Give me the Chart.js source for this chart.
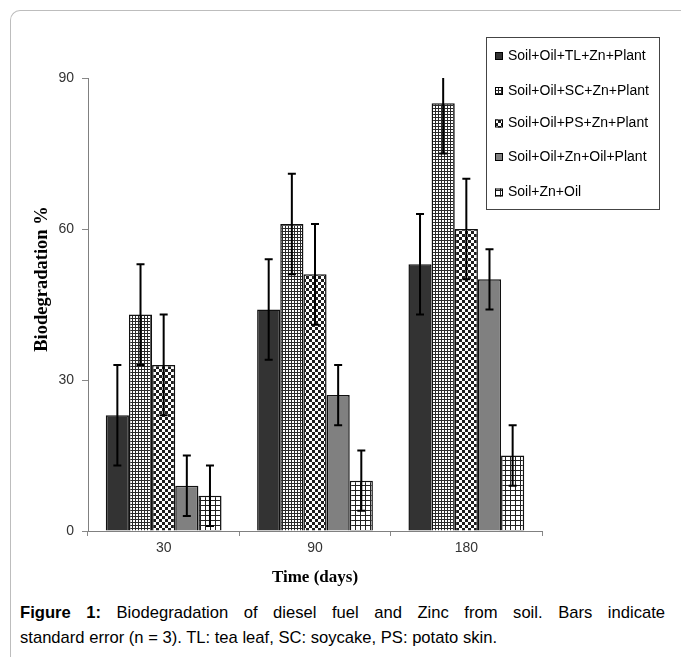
<!DOCTYPE html>
<html>
<head>
<meta charset="utf-8">
<script src="https://cdn.jsdelivr.net/npm/chart.js@4.4.0/dist/chart.umd.min.js"></script>
<style>
  html, body { margin: 0; padding: 0; background: #fff; }
  body { width: 681px; height: 657px; position: relative; overflow: hidden; }
  #frame { position: absolute; left: 10px; top: 10px; width: 700px; height: 700px;
           border-left: 1px solid #bdbdbd; border-top: 1px solid #bdbdbd; border-top-left-radius: 10px; }
  #wrap { position: absolute; left: 0; top: 0; width: 681px; height: 595px; }
  .cap { position: absolute; left: 20px; width: 645px; font-family: "Liberation Sans", Arial, sans-serif;
         font-size: 16.6px; line-height: 20px; color: #000; white-space: nowrap; }
  #cap1 { top: 603px; text-align: justify; text-align-last: justify; white-space: normal; }
  #cap2 { top: 628px; text-align: left; }
</style>
</head>
<body>
<div id="frame"></div>
<div id="wrap"><canvas id="c" width="681" height="595"></canvas></div>
<div class="cap" id="cap1"><b>Figure 1:</b> Biodegradation of diesel fuel and Zinc from soil. Bars indicate</div>
<div class="cap" id="cap2">standard error (n = 3). TL: tea leaf, SC: soycake, PS: potato skin.</div>
<script>
const categories = ['30', '90', '180'];
const seriesNames = ['Soil+Oil+TL+Zn+Plant', 'Soil+Oil+SC+Zn+Plant', 'Soil+Oil+PS+Zn+Plant', 'Soil+Oil+Zn+Oil+Plant', 'Soil+Zn+Oil'];
const tlValues = [23, 44, 53];
const scValues = [43, 61, 85];
const psValues = [33, 51, 60];
const znOilPlantValues = [9, 27, 50];
const soilZnOilValues = [7, 10, 15];
const tlErrors = [10, 10, 10];
const scErrors = [10, 10, 10];
const psErrors = [10, 10, 10];
const znOilPlantErrors = [6, 6, 6];
const soilZnOilErrors = [6, 6, 6];
const yTicks = [0, 30, 60, 90];
const xTitle = 'Time (days)';
const yTitle = 'Biodegradation %';

function makePattern(size, drawFn) {
  const c = document.createElement('canvas');
  c.width = size; c.height = size;
  const g = c.getContext('2d');
  g.fillStyle = '#fff';
  g.fillRect(0, 0, size, size);
  drawFn(g);
  return document.getElementById('c').getContext('2d').createPattern(c, 'repeat');
}
const fineGrid = makePattern(3, g => { g.fillStyle = '#2a2a2a'; g.fillRect(0, 0, 3, 1); g.fillRect(0, 0, 1, 3); });
const checker = makePattern(6, g => { g.fillStyle = '#1e1e1e'; g.fillRect(0, 0, 3, 3); g.fillRect(3, 3, 3, 3); });
const coarseGrid = makePattern(5, g => { g.fillStyle = '#222'; g.fillRect(0, 0, 5, 1); g.fillRect(0, 0, 1, 5); });

const fills = ['#333333', fineGrid, checker, '#808080', coarseGrid];
const valueSets = [tlValues, scValues, psValues, znOilPlantValues, soilZnOilValues];
const errorSets = [tlErrors, scErrors, psErrors, znOilPlantErrors, soilZnOilErrors];

const datasets = seriesNames.map((name, i) => ({
  label: name,
  data: valueSets[i],
  errors: errorSets[i],
  backgroundColor: fills[i],
  borderColor: '#111',
  borderWidth: 1.5,
  barPercentage: 1.0,
  categoryPercentage: 0.765
}));

const errorBarPlugin = {
  id: 'errorBars',
  afterDatasetsDraw(chart) {
    const ctx = chart.ctx, area = chart.chartArea, ys = chart.scales.y;
    ctx.save();
    ctx.beginPath();
    ctx.rect(area.left, area.top, area.right - area.left, area.bottom - area.top);
    ctx.clip();
    ctx.strokeStyle = '#000';
    ctx.lineWidth = 2;
    chart.data.datasets.forEach((ds, i) => {
      const meta = chart.getDatasetMeta(i);
      meta.data.forEach((bar, j) => {
        const v = ds.data[j], e = ds.errors[j];
        const x = bar.x;
        const yt = ys.getPixelForValue(v + e);
        const yb = ys.getPixelForValue(v - e);
        ctx.beginPath();
        ctx.moveTo(x, yt); ctx.lineTo(x, yb);
        ctx.moveTo(x - 4, yt); ctx.lineTo(x + 4, yt);
        ctx.moveTo(x - 4, yb); ctx.lineTo(x + 4, yb);
        ctx.stroke();
      });
    });
    ctx.restore();
  }
};

const decorPlugin = {
  id: 'decor',
  afterDraw(chart) {
    const ctx = chart.ctx, area = chart.chartArea;
    ctx.save();
    // Legend
    const lx = 486.5, ly = 37.5, lw = 173, lh = 172;
    ctx.strokeStyle = '#444';
    ctx.lineWidth = 1;
    ctx.fillStyle = '#fff';
    ctx.fillRect(lx, ly, lw, lh);
    ctx.strokeRect(lx, ly, lw, lh);
    ctx.font = '14px "Liberation Sans", Arial, sans-serif';
    ctx.textBaseline = 'middle';
    const rows = [56, 91, 123.5, 157, 192.5];
    chart.data.datasets.forEach((ds, i) => {
      const cy = rows[i];
      ctx.fillStyle = ds.backgroundColor;
      ctx.fillRect(495, cy - 4, 8, 8);
      ctx.strokeStyle = '#000';
      ctx.lineWidth = 1;
      ctx.strokeRect(495.5, cy - 3.5, 7, 7);
      ctx.fillStyle = '#000';
      ctx.textAlign = 'left';
      ctx.fillText(ds.label, 508, cy);
    });
    // Axis titles
    ctx.fillStyle = '#000';
    ctx.font = 'bold 17px "Liberation Serif", "Times New Roman", serif';
    ctx.textAlign = 'center';
    ctx.textBaseline = 'middle';
    ctx.fillText(xTitle, (area.left + area.right) / 2, 578);
    ctx.font = 'bold 18.5px "Liberation Serif", "Times New Roman", serif';
    ctx.translate(42, 279);
    ctx.rotate(-Math.PI / 2);
    ctx.fillText(yTitle, 0, 0);
    ctx.restore();
  }
};

new Chart(document.getElementById('c'), {
  type: 'bar',
  data: { labels: categories, datasets },
  plugins: [errorBarPlugin, decorPlugin],
  options: {
    responsive: false,
    animation: false,
    events: [],
    layout: { padding: { left: 0, right: 139, top: 78, bottom: 0 } },
    plugins: { legend: { display: false }, tooltip: { enabled: false } },
    scales: {
      x: {
        afterFit(s) { s.height = 64; },
        grid: { display: true, offset: true, drawOnChartArea: false, drawTicks: true, tickLength: 5, color: '#888' },
        border: { display: true, color: '#808080', width: 1 },
        ticks: { color: '#333', padding: 4, font: { family: '"Liberation Sans", Arial, sans-serif', size: 14 } }
      },
      y: {
        min: 0, max: 90,
        afterFit(s) { s.width = 88; },
        afterBuildTicks(s) { s.ticks = yTicks.map(v => ({ value: v })); },
        grid: { display: true, drawOnChartArea: false, drawTicks: true, tickLength: 6, color: '#888' },
        border: { display: true, color: '#808080', width: 1 },
        ticks: { color: '#333', padding: 8, font: { family: '"Liberation Sans", Arial, sans-serif', size: 14 } }
      }
    }
  }
});
</script>
</body>
</html>
